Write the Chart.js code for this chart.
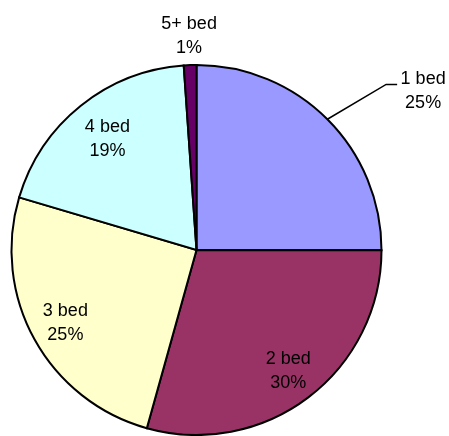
<!DOCTYPE html>
<html>
<head>
<meta charset="utf-8">
<script src="https://cdn.jsdelivr.net/npm/chart.js@4/dist/chart.umd.min.js"></script>
<style>
  html, body { margin: 0; padding: 0; background: #ffffff; }
  #wrap { width: 449px; height: 436px; position: relative; }
</style>
</head>
<body>
<div id="wrap"><canvas id="c" width="449" height="436"></canvas></div>
<script>
// ---- data ----
const categories = ["1 bed", "2 bed", "3 bed", "4 bed", "5+ bed"];
const shareValues = [25, 29.3, 25.25, 19.3, 1.1];
const percentLabels = ["25%", "30%", "25%", "19%", "1%"];
const sliceColors = ["#9999FF", "#993366", "#FFFFCC", "#CCFFFF", "#660066"];

// label placement (relative to pie radius): radial factor, optional leader line
const labelPlacement = [
  { leader: true },
  { r: 0.82 },
  { r: 0.81 },
  { r: 0.77 },
  { r: 1.155 }
];

const labelPlugin = {
  id: 'sliceLabels',
  afterDatasetsDraw(chart) {
    const ctx = chart.ctx;
    const meta = chart.getDatasetMeta(0);
    ctx.save();
    ctx.font = '18px "Liberation Sans", Arial, sans-serif';
    ctx.fillStyle = '#000000';
    ctx.textAlign = 'center';
    ctx.textBaseline = 'middle';
    meta.data.forEach((arc, i) => {
      const p = arc.getProps(['x', 'y', 'startAngle', 'endAngle', 'outerRadius'], true);
      const mid = (p.startAngle + p.endAngle) / 2;
      const R = p.outerRadius;
      const place = labelPlacement[i];
      let lx, ly;
      if (place.leader) {
        const sx = p.x + Math.cos(mid) * R;
        const sy = p.y + Math.sin(mid) * R;
        const ex = p.x + R * 1.025;
        const ey = p.y - R * 0.895;
        const hx = ex + 11;
        ctx.beginPath();
        ctx.strokeStyle = '#000000';
        ctx.lineWidth = 1.5;
        ctx.moveTo(sx, sy);
        ctx.lineTo(ex, ey);
        ctx.lineTo(hx, ey);
        ctx.stroke();
        lx = hx + 26;
        ly = ey + 7;
      } else {
        lx = p.x + Math.cos(mid) * R * place.r;
        ly = p.y + Math.sin(mid) * R * place.r;
      }
      ctx.fillText(categories[i], lx, ly - 12);
      ctx.fillText(percentLabels[i], lx, ly + 12);
    });
    ctx.restore();
  }
};

new Chart(document.getElementById('c'), {
  type: 'pie',
  data: {
    labels: categories,
    datasets: [{
      data: shareValues,
      backgroundColor: sliceColors,
      borderColor: '#000000',
      borderWidth: 2,
      borderJoinStyle: 'miter'
    }]
  },
  options: {
    responsive: false,
    animation: false,
    layout: { padding: { left: 10, top: 64, right: 66, bottom: -1 } },
    plugins: {
      legend: { display: false },
      tooltip: { enabled: false }
    }
  },
  plugins: [labelPlugin]
});
</script>
</body>
</html>
